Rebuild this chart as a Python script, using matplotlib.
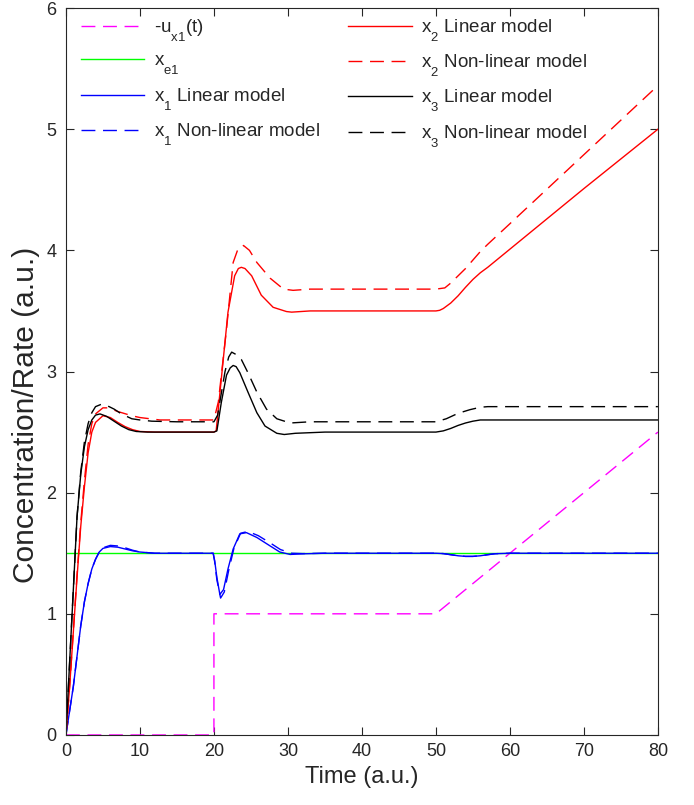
import matplotlib
matplotlib.use("Agg")
import matplotlib.pyplot as plt

plt.rcParams["font.family"] = ["Liberation Sans", "DejaVu Sans"]
plt.rcParams["mathtext.fontset"] = "custom"
plt.rcParams["mathtext.rm"] = "Liberation Sans"
plt.rcParams["mathtext.default"] = "regular"

# MATLAB-style subscripts sit lower than matplotlib's default
try:
    import matplotlib._mathtext as _mt
    _mt.FontConstantsBase.sub1 = 0.95
except Exception:
    pass

# ── data (time in a.u.) ──────────────────────────────────────────────────────
u_t = [0, 20, 20, 50, 80]
u_v = [0, 0, 1, 1, 2.5]

xe_t = [0, 80]
xe_v = [1.5, 1.5]

x1_lin_t = [0, 0.5, 1, 1.5, 2, 2.5, 3, 3.5, 4, 4.5, 5, 6, 7, 8, 9, 10, 12, 19.9,
            20.1, 20.4, 20.8, 21.3, 21.9, 22.6, 23.5, 24.4, 25.8, 27.6, 28.9,
            30.3, 32, 35, 50, 51, 52, 53, 54, 55, 56, 57, 58, 60, 80]
x1_lin_v = [0, 0.2, 0.4, 0.65, 0.9, 1.1, 1.25, 1.37, 1.45, 1.51, 1.54, 1.555,
            1.55, 1.535, 1.52, 1.51, 1.5, 1.5,
            1.44, 1.30, 1.16, 1.2, 1.37, 1.535, 1.66, 1.67, 1.63, 1.56, 1.51,
            1.49, 1.495, 1.5, 1.5, 1.497, 1.488, 1.479, 1.474, 1.474, 1.479,
            1.488, 1.496, 1.5, 1.5]

x1_nl_t = [0, 0.5, 1, 1.5, 2, 2.5, 3, 3.5, 4, 4.5, 5, 6, 7, 8, 9, 10, 12, 19.9,
           20.1, 20.4, 20.9, 21.4, 22.0, 22.7, 23.6, 24.6, 26.0, 27.6, 29.0,
           30.5, 32, 35, 50, 51, 52, 53, 54, 55, 56, 57, 58, 60, 80]
x1_nl_v = [0, 0.2, 0.4, 0.65, 0.9, 1.1, 1.25, 1.37, 1.45, 1.51, 1.545, 1.565,
           1.56, 1.545, 1.525, 1.51, 1.5, 1.5,
           1.43, 1.28, 1.13, 1.18, 1.36, 1.54, 1.665, 1.68, 1.645, 1.585, 1.53,
           1.5, 1.497, 1.5, 1.5, 1.497, 1.488, 1.479, 1.474, 1.474, 1.479,
           1.488, 1.496, 1.5, 1.5]

x2_lin_t = [0, 0.5, 1, 1.5, 2, 2.5, 3, 3.5, 4, 5, 6, 7, 8, 9, 10, 12, 20,
            20.3, 21.0, 21.9, 22.8, 23.3, 23.7, 24.2, 25.1, 26.4, 28, 29.8,
            30.5, 33, 50, 50.5, 51, 52, 53, 54, 55, 56, 57, 60, 70, 80]
x2_lin_v = [0, 0.4, 0.85, 1.3, 1.72, 2.05, 2.33, 2.5, 2.58, 2.635, 2.62, 2.58,
            2.545, 2.52, 2.505, 2.5, 2.5,
            2.51, 2.94, 3.49, 3.79, 3.85, 3.86, 3.85, 3.79, 3.63, 3.53, 3.495,
            3.49, 3.5, 3.5, 3.505, 3.52, 3.565, 3.625, 3.695, 3.76, 3.815,
            3.86, 4.01, 4.51, 5.0]

x2_nl_t = [0, 0.5, 1, 1.5, 2, 2.5, 3, 3.5, 4, 5, 5.7, 7, 8.9, 10, 12.7, 20,
           20.6, 21.7, 22.6, 23.3, 24.0, 24.8, 25.8, 27.6, 29.4, 30.7, 33, 50,
           51.2, 52, 53, 54, 55, 56, 57, 60, 70, 80]
x2_nl_v = [0, 0.4, 0.86, 1.32, 1.75, 2.1, 2.4, 2.57, 2.65, 2.70, 2.70, 2.67,
           2.635, 2.62, 2.60, 2.60,
           2.75, 3.35, 3.90, 4.02, 4.04, 4.0, 3.90, 3.77, 3.68, 3.67, 3.68,
           3.68, 3.69, 3.73, 3.79, 3.85, 3.92, 3.99, 4.05, 4.22, 4.79, 5.36]

x3_lin_t = [0, 0.5, 1, 1.5, 2, 2.5, 3, 3.5, 4, 4.6, 5.5, 6.5, 7.5, 8.5, 9.5, 11,
            20, 20.4, 21.0, 21.7, 22.2, 22.6, 23.0, 23.5, 24.6, 25.8, 26.9,
            28.5, 29.5, 31, 35, 50, 51, 52, 53, 54, 55, 56, 57, 60, 80]
x3_lin_v = [0, 0.6, 1.2, 1.8, 2.15, 2.38, 2.52, 2.6, 2.64, 2.65, 2.63, 2.59,
            2.55, 2.52, 2.505, 2.5,
            2.5, 2.51, 2.745, 2.97, 3.03, 3.05, 3.04, 2.99, 2.83, 2.66, 2.55,
            2.49, 2.48, 2.49, 2.5, 2.5, 2.51, 2.53, 2.555, 2.575, 2.59, 2.6,
            2.6, 2.6, 2.6]

x3_nl_t = [0, 0.5, 1, 1.5, 2, 2.5, 3, 3.5, 4, 4.8, 5.5, 6.5, 7.5, 8.9, 10, 11.6,
           15, 20, 20.5, 21, 21.5, 22, 22.4, 23, 23.7, 24.6, 25.8, 27.1, 28.5,
           30.3, 33, 50, 51.4, 53, 54.6, 56, 57, 60, 80]
x3_nl_v = [0, 0.6, 1.2, 1.8, 2.17, 2.42, 2.57, 2.66, 2.71, 2.73, 2.72, 2.69,
           2.65, 2.61, 2.6, 2.59, 2.585, 2.585,
           2.64, 2.82, 3.0, 3.12, 3.16, 3.14, 3.1, 2.99, 2.83, 2.69, 2.61,
           2.575, 2.585, 2.585, 2.61, 2.655, 2.685, 2.705, 2.71, 2.71, 2.71]

x_ticks = [0, 10, 20, 30, 40, 50, 60, 70, 80]
y_ticks = [0, 1, 2, 3, 4, 5, 6]
# ─────────────────────────────────────────────────────────────────────────────

DASH = (10, 5.5)
LW = 1.0
TXT = "#262626"

fig = plt.figure(figsize=(6.94, 8.05), dpi=100)
ax = fig.add_axes([0.095, 0.087, 0.853, 0.903])

ax.plot(u_t, u_v, color="#ff00ff", lw=LW, dashes=DASH, label=r"-u$_{x1}$(t)")
ax.plot(xe_t, xe_v, color="#00ff00", lw=LW, label=r"x$_{e1}$")
ax.plot(x1_lin_t, x1_lin_v, color="#0000ff", lw=LW, label=r"x$_1$ Linear model")
ax.plot(x1_nl_t, x1_nl_v, color="#0000ff", lw=LW, dashes=DASH,
        label=r"x$_1$ Non-linear model")
ax.plot(x2_lin_t, x2_lin_v, color="#ff0000", lw=LW, label=r"x$_2$ Linear model")
ax.plot(x2_nl_t, x2_nl_v, color="#ff0000", lw=LW, dashes=DASH,
        label=r"x$_2$ Non-linear model")
ax.plot(x3_lin_t, x3_lin_v, color="#000000", lw=LW, label=r"x$_3$ Linear model")
ax.plot(x3_nl_t, x3_nl_v, color="#000000", lw=LW, dashes=DASH,
        label=r"x$_3$ Non-linear model")

ax.set_xlim(0, 80)
ax.set_ylim(0, 6)
ax.set_xticks(x_ticks)
ax.set_yticks(y_ticks)
ax.tick_params(direction="in", length=6, width=0.8, top=True, right=True,
               labelsize=13, colors=TXT)
ax.tick_params(axis="y", pad=7)
ax.tick_params(axis="x", pad=6)
for sp in ax.spines.values():
    sp.set_color(TXT)
    sp.set_linewidth(0.8)

ax.set_xlabel("Time (a.u.)", fontsize=17, color=TXT, labelpad=4)
ax.set_ylabel("Concentration/Rate (a.u.)", fontsize=21.5, color=TXT)
ax.yaxis.set_label_coords(-0.044, 0.44)

leg = ax.legend(ncol=2, loc="upper left", frameon=False, fontsize=13.5,
                handlelength=3.4, handletextpad=0.5, columnspacing=1.5,
                labelspacing=0.46, borderaxespad=0.0,
                bbox_to_anchor=(0.012, 0.997))
for t in leg.get_texts():
    t.set_color(TXT)

fig.savefig("out.png", dpi=100)
